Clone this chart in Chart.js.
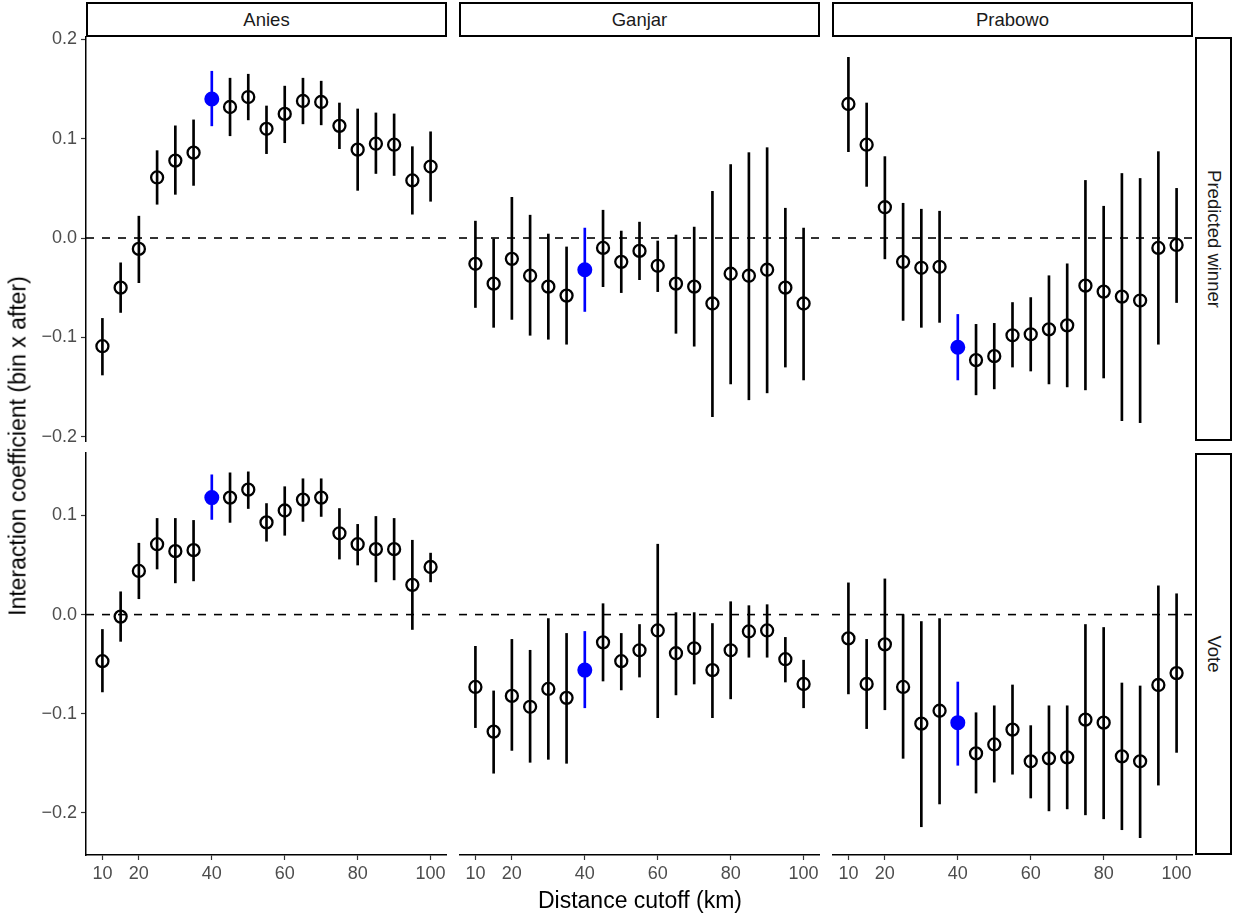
<!DOCTYPE html>
<html>
<head>
<meta charset="utf-8">
<script src="https://cdn.jsdelivr.net/npm/chart.js@4.4.0/dist/chart.umd.min.js"></script>
<style>
  body { margin: 0; background: #fff; font-family: "Liberation Sans", Arial, sans-serif; }
  #wrap { position: relative; width: 1233px; height: 913px; overflow: hidden; }
  .strip { position: absolute; box-sizing: border-box; border: 2px solid #000; background: #fff;
           color: #1a1a1a; font-size: 18.5px; display: flex; align-items: center; justify-content: center; }
  .strip.right span { transform: rotate(90deg); white-space: nowrap; }
  .title { position: absolute; color: #000; font-size: 23px; white-space: nowrap; transform: translate(-50%, -50%); }
</style>
</head>
<body>
<div id="wrap"></div>
<script>
// distance cutoffs (km)
var cutoffs = [10, 15, 20, 25, 30, 35, 40, 45, 50, 55, 60, 65, 70, 75, 80, 85, 90, 95, 100];
var highlightCutoff = 40;
var xTicks = [10, 20, 40, 60, 80, 100];
var candidates = ['Anies', 'Ganjar', 'Prabowo'];
var outcomes = ['Predicted winner', 'Vote'];
var rowTicks = [[0.2, 0.1, 0, -0.1, -0.2], [0.1, 0, -0.1, -0.2]];

// Predicted winner
var aniesWinEst = [-0.109, -0.050, -0.011, 0.061, 0.078, 0.086, 0.140, 0.132, 0.142, 0.110, 0.125, 0.138, 0.137, 0.113, 0.089, 0.095, 0.094, 0.058, 0.072];
var aniesWinLo  = [-0.138, -0.075, -0.045, 0.034, 0.044, 0.053, 0.113, 0.103, 0.119, 0.085, 0.096, 0.115, 0.114, 0.090, 0.048, 0.065, 0.063, 0.024, 0.037];
var aniesWinHi  = [-0.081, -0.025, 0.022, 0.088, 0.113, 0.119, 0.168, 0.161, 0.165, 0.133, 0.153, 0.161, 0.158, 0.136, 0.130, 0.126, 0.125, 0.092, 0.107];

var ganjarWinEst = [-0.026, -0.046, -0.021, -0.038, -0.049, -0.058, -0.032, -0.010, -0.024, -0.013, -0.028, -0.046, -0.049, -0.066, -0.036, -0.038, -0.032, -0.050, -0.066];
var ganjarWinLo  = [-0.070, -0.090, -0.082, -0.098, -0.102, -0.107, -0.074, -0.049, -0.055, -0.042, -0.054, -0.096, -0.109, -0.180, -0.147, -0.163, -0.156, -0.130, -0.143];
var ganjarWinHi  = [0.017, -0.001, 0.041, 0.023, 0.004, -0.009, 0.010, 0.028, 0.007, 0.016, -0.003, 0.003, 0.011, 0.047, 0.074, 0.086, 0.091, 0.030, 0.010];

var prabowoWinEst = [0.135, 0.094, 0.031, -0.024, -0.030, -0.029, -0.110, -0.123, -0.119, -0.098, -0.097, -0.092, -0.088, -0.048, -0.054, -0.059, -0.063, -0.010, -0.007];
var prabowoWinLo  = [0.087, 0.052, -0.021, -0.083, -0.090, -0.085, -0.143, -0.158, -0.152, -0.130, -0.134, -0.147, -0.150, -0.153, -0.141, -0.184, -0.186, -0.107, -0.065];
var prabowoWinHi  = [0.182, 0.136, 0.082, 0.035, 0.029, 0.027, -0.077, -0.087, -0.086, -0.065, -0.060, -0.038, -0.026, 0.058, 0.032, 0.065, 0.060, 0.087, 0.050];

// Vote
var aniesVoteEst = [-0.047, -0.002, 0.044, 0.071, 0.064, 0.065, 0.118, 0.118, 0.126, 0.093, 0.105, 0.116, 0.118, 0.082, 0.071, 0.066, 0.066, 0.030, 0.048];
var aniesVoteLo  = [-0.078, -0.027, 0.016, 0.046, 0.032, 0.034, 0.096, 0.093, 0.107, 0.074, 0.080, 0.094, 0.099, 0.056, 0.050, 0.033, 0.035, -0.015, 0.033];
var aniesVoteHi  = [-0.015, 0.023, 0.072, 0.097, 0.097, 0.095, 0.141, 0.143, 0.144, 0.112, 0.129, 0.137, 0.137, 0.107, 0.091, 0.099, 0.097, 0.075, 0.062];

var ganjarVoteEst = [-0.073, -0.118, -0.082, -0.093, -0.075, -0.084, -0.056, -0.028, -0.047, -0.036, -0.016, -0.039, -0.034, -0.056, -0.036, -0.017, -0.016, -0.045, -0.070];
var ganjarVoteLo  = [-0.114, -0.160, -0.137, -0.149, -0.146, -0.150, -0.094, -0.067, -0.076, -0.063, -0.104, -0.081, -0.070, -0.104, -0.085, -0.043, -0.043, -0.068, -0.094];
var ganjarVoteHi  = [-0.032, -0.077, -0.025, -0.036, -0.004, -0.019, -0.017, 0.011, -0.019, -0.010, 0.071, 0.002, 0.002, -0.009, 0.013, 0.009, 0.010, -0.023, -0.046];

var prabowoVoteEst = [-0.024, -0.070, -0.030, -0.073, -0.110, -0.097, -0.109, -0.140, -0.131, -0.116, -0.148, -0.145, -0.144, -0.106, -0.109, -0.143, -0.148, -0.071, -0.059];
var prabowoVoteLo  = [-0.080, -0.115, -0.096, -0.145, -0.214, -0.191, -0.152, -0.180, -0.169, -0.161, -0.185, -0.198, -0.196, -0.202, -0.206, -0.217, -0.225, -0.172, -0.139];
var prabowoVoteHi  = [0.032, -0.025, 0.036, 0.000, -0.007, -0.004, -0.068, -0.099, -0.092, -0.071, -0.112, -0.092, -0.092, -0.010, -0.013, -0.069, -0.072, 0.029, 0.021];

var panels = [
  [[aniesWinEst, aniesWinLo, aniesWinHi], [ganjarWinEst, ganjarWinLo, ganjarWinHi], [prabowoWinEst, prabowoWinLo, prabowoWinHi]],
  [[aniesVoteEst, aniesVoteLo, aniesVoteHi], [ganjarVoteEst, ganjarVoteLo, ganjarVoteHi], [prabowoVoteEst, prabowoVoteLo, prabowoVoteHi]]
];

// layout (px) and axis limits, like ggplot facet_grid with free y per row
var xLimits = [5.5, 104.5];
var rowLimits = [[-0.2045, 0.2025], [-0.2425, 0.163]];
var colLeft = [86, 459, 832];
var panelW = 361;
var rowTop = [37, 453];
var rowH = [404, 402];
var yAxisW = 86, xAxisH = 40;
var edgePad = 12; // room for tick labels sitting on the panel edge
var fontFam = "'Liberation Sans', Arial, sans-serif";

Chart.defaults.font.family = fontFam;
var wrap = document.getElementById('wrap');

function fmt(v) {
  return (v < 0 ? '\u2212' : '') + Math.abs(v).toFixed(1);
}

function makePanel(r, c) {
  var p = panels[r][c];
  var est = p[0], lo = p[1], hi = p[2];
  var showY = c === 0, showX = r === 1;
  var padTop = showY ? edgePad : 0;
  var padBottom = (showY && !showX) ? edgePad : 0;
  var left = showY ? 0 : colLeft[c];
  var top = rowTop[r] - padTop;
  var w = panelW + (showY ? yAxisW : 0);
  var h = rowH[r] + (showX ? xAxisH : 0) + padTop + padBottom;

  var canvas = document.createElement('canvas');
  canvas.width = w;
  canvas.height = h;
  canvas.style.cssText = 'position:absolute;left:' + left + 'px;top:' + top + 'px;width:' + w + 'px;height:' + h + 'px';
  wrap.appendChild(canvas);

  var isHi = function(ctx) { return ctx.raw && ctx.raw.x === highlightCutoff; };

  new Chart(canvas, {
    type: 'bar',
    data: {
      datasets: [{
        type: 'line',
        data: [{x: xLimits[0], y: 0}, {x: xLimits[1], y: 0}],
        borderColor: '#000',
        borderWidth: 1.6,
        borderDash: [8, 8],
        pointRadius: 0,
        order: 3
      }, {
        type: 'bar',
        data: cutoffs.map(function(x, i) { return {x: x, y: [lo[i], hi[i]]}; }),
        backgroundColor: function(ctx) { return isHi(ctx) ? '#0000ff' : '#000'; },
        barThickness: 2,
        borderWidth: 0,
        order: 2
      }, {
        type: 'scatter',
        data: cutoffs.map(function(x, i) { return {x: x, y: est[i]}; }),
        pointRadius: function(ctx) { return isHi(ctx) ? 6.5 : 6; },
        pointBorderWidth: function(ctx) { return isHi(ctx) ? 2 : 2.3; },
        pointBackgroundColor: function(ctx) { return isHi(ctx) ? '#0000ff' : 'rgba(0,0,0,0)'; },
        pointBorderColor: function(ctx) { return isHi(ctx) ? '#0000ff' : '#000'; },
        clip: false,
        order: 1
      }]
    },
    options: {
      responsive: false,
      animation: false,
      layout: { padding: { top: padTop, bottom: padBottom, left: 0, right: 0 }, autoPadding: false },
      plugins: { legend: { display: false }, tooltip: { enabled: false } },
      scales: {
        x: {
          type: 'linear', min: xLimits[0], max: xLimits[1], offset: false, display: showX,
          afterBuildTicks: function(s) { s.ticks = xTicks.map(function(v) { return {value: v}; }); },
          afterFit: function(s) {
            if (showX) s.height = xAxisH;
            s.paddingLeft = 0; s.paddingRight = 0;
          },
          grid: { offset: false, drawOnChartArea: false, drawTicks: true, tickLength: 5, color: '#333', tickWidth: 1.2 },
          border: { display: true, color: '#000', width: 1.5 },
          ticks: { color: '#4d4d4d', font: { size: 18 }, padding: 3, maxRotation: 0, autoSkip: false }
        },
        y: {
          type: 'linear', min: rowLimits[r][0], max: rowLimits[r][1], display: showY,
          afterBuildTicks: function(s) { s.ticks = rowTicks[r].map(function(v) { return {value: v}; }); },
          afterFit: function(s) {
            if (showY) s.width = yAxisW;
            s.paddingTop = 0; s.paddingBottom = 0;
          },
          grid: { offset: false, drawOnChartArea: false, drawTicks: true, tickLength: 5, color: '#333', tickWidth: 1.2 },
          border: { display: true, color: '#000', width: 1.5 },
          ticks: { color: '#4d4d4d', font: { size: 18 }, padding: 4, autoSkip: false,
                   callback: function(v) { return fmt(v); } }
        }
      }
    }
  });
}

for (var r = 0; r < 2; r++) {
  for (var c = 0; c < 3; c++) makePanel(r, c);
}

// facet strips
candidates.forEach(function(name, c) {
  var d = document.createElement('div');
  d.className = 'strip';
  d.style.cssText = 'left:' + colLeft[c] + 'px;top:2px;width:' + panelW + 'px;height:35px';
  d.textContent = name;
  wrap.appendChild(d);
});
outcomes.forEach(function(name, r) {
  var d = document.createElement('div');
  d.className = 'strip right';
  d.style.cssText = 'left:1195px;top:' + rowTop[r] + 'px;width:37px;height:' + rowH[r] + 'px';
  var s = document.createElement('span');
  s.textContent = name;
  d.appendChild(s);
  wrap.appendChild(d);
});

// axis titles
var yt = document.createElement('div');
yt.className = 'title';
yt.style.cssText = 'left:18px;top:446px;transform:translate(-50%,-50%) rotate(-90deg)';
yt.textContent = 'Interaction coefficient (bin x after)';
wrap.appendChild(yt);

var xt = document.createElement('div');
xt.className = 'title';
xt.style.cssText = 'left:640px;top:900px';
xt.textContent = 'Distance cutoff (km)';
wrap.appendChild(xt);
</script>
</body>
</html>
